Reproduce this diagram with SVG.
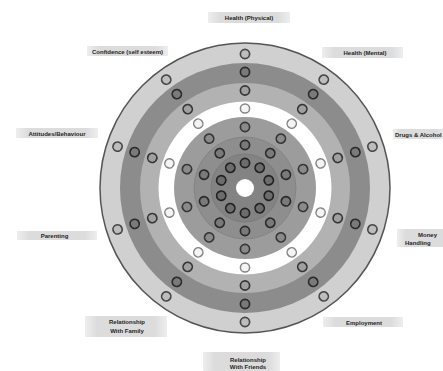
<svg xmlns="http://www.w3.org/2000/svg" xmlns:xlink="http://www.w3.org/1999/xlink" width="443" height="371" viewBox="0 0 443 371">
<style>
.lbl{font-family:"Liberation Sans",Arial,sans-serif;font-size:6px;font-weight:bold;fill:#252525}
.box{fill:url(#boxg)}
.c1{fill:#bdbdbd;stroke:#474747;stroke-width:1.7}
.c2{fill:#7a7a7a;stroke:#2a2a2a;stroke-width:1.7}
.c3{fill:#a0a0a0;stroke:#363636;stroke-width:1.7}
.c4{fill:#f4f4f4;stroke:#858585;stroke-width:1.5}
.c5{fill:#8a8a8a;stroke:#363636;stroke-width:1.7}
.c6{fill:#7a7a7a;stroke:#2a2a2a;stroke-width:1.7}
.c7{fill:#6c6c6c;stroke:#222;stroke-width:1.7}
</style>
<defs>
<linearGradient id="boxg" x1="0" y1="0" x2="1" y2="0">
<stop offset="0" stop-color="#eeeeee"/>
<stop offset="0.15" stop-color="#dcdcdc"/>
<stop offset="0.85" stop-color="#dcdcdc"/>
<stop offset="1" stop-color="#eeeeee"/>
</linearGradient>
<g id="spoke">
<circle class="c1" cx="0" cy="-134" r="4.6"/>
<circle class="c2" cx="0" cy="-116" r="4.6"/>
<circle class="c3" cx="0" cy="-97.5" r="4.6"/>
<circle class="c4" cx="0" cy="-79.5" r="4.6"/>
<circle class="c5" cx="0" cy="-61" r="4.6"/>
<circle class="c6" cx="0" cy="-43" r="4.6"/>
<circle class="c7" cx="0" cy="-25" r="4.6"/>
</g>
</defs>
<rect width="443" height="371" fill="#ffffff"/>
<g id="wheel">
<circle cx="245" cy="188" r="145" fill="#d0d0d0" stroke="#555" stroke-width="1.5"/>
<circle cx="245" cy="188" r="125" fill="#8c8c8c"/>
<circle cx="245" cy="188" r="105" fill="#b2b2b2"/>
<circle cx="245" cy="188" r="86.5" fill="#ffffff"/>
<circle cx="245" cy="188" r="71" fill="#9c9c9c"/>
<circle cx="245" cy="188" r="51" fill="#8e8e8e" stroke="#808080" stroke-width="0.8"/>
<circle cx="245" cy="188" r="34" fill="#838383" stroke="#777" stroke-width="0.8"/>
<circle cx="245" cy="188" r="9" fill="#ffffff"/>
</g>
<g id="markers">
<use xlink:href="#spoke" transform="translate(245,188) rotate(0)"/>
<use xlink:href="#spoke" transform="translate(245,188) rotate(36)"/>
<use xlink:href="#spoke" transform="translate(245,188) rotate(72)"/>
<use xlink:href="#spoke" transform="translate(245,188) rotate(108)"/>
<use xlink:href="#spoke" transform="translate(245,188) rotate(144)"/>
<use xlink:href="#spoke" transform="translate(245,188) rotate(180)"/>
<use xlink:href="#spoke" transform="translate(245,188) rotate(216)"/>
<use xlink:href="#spoke" transform="translate(245,188) rotate(252)"/>
<use xlink:href="#spoke" transform="translate(245,188) rotate(288)"/>
<use xlink:href="#spoke" transform="translate(245,188) rotate(324)"/>
</g>
<g id="label-health-physical">
<rect class="box" x="208" y="12" width="82" height="11"/>
<text class="lbl" x="249" y="20" text-anchor="middle">Health (Physical)</text>
</g>
<g id="label-confidence">
<rect class="box" x="87" y="46" width="81" height="10"/>
<text class="lbl" x="127.5" y="53.5" text-anchor="middle">Confidence (self esteem)</text>
</g>
<g id="label-health-mental">
<rect class="box" x="322" y="47" width="81" height="11"/>
<text class="lbl" x="365" y="55" text-anchor="middle">Health (Mental)</text>
</g>
<g id="label-attitudes">
<rect class="box" x="16" y="128" width="82" height="10"/>
<text class="lbl" x="57" y="135.5" text-anchor="middle">Attitudes/Behaviour</text>
</g>
<g id="label-drugs">
<rect class="box" x="393" y="129" width="52" height="10"/>
<text class="lbl" x="395" y="136.5">Drugs &amp; Alcohol</text>
</g>
<g id="label-parenting">
<rect class="box" x="17" y="231" width="80" height="9"/>
<text class="lbl" x="54.5" y="238" text-anchor="middle">Parenting</text>
</g>
<g id="label-money">
<rect class="box" x="397" y="229" width="60" height="18"/>
<text class="lbl" x="418" y="237">Money</text>
<text class="lbl" x="405" y="244.5">Handling</text>
</g>
<g id="label-employment">
<rect class="box" x="323" y="317" width="80" height="10"/>
<text class="lbl" x="364" y="324.5" text-anchor="middle">Employment</text>
</g>
<g id="label-family">
<rect class="box" x="85" y="316" width="82" height="21"/>
<text class="lbl" x="127" y="324" text-anchor="middle">Relationship</text>
<text class="lbl" x="127" y="333" text-anchor="middle">With Family</text>
</g>
<g id="label-friends">
<rect class="box" x="203" y="352" width="77" height="19"/>
<text class="lbl" x="248" y="361.5" text-anchor="middle">Relationship</text>
<text class="lbl" x="248" y="368.5" text-anchor="middle">With Friends</text>
</g>
</svg>
